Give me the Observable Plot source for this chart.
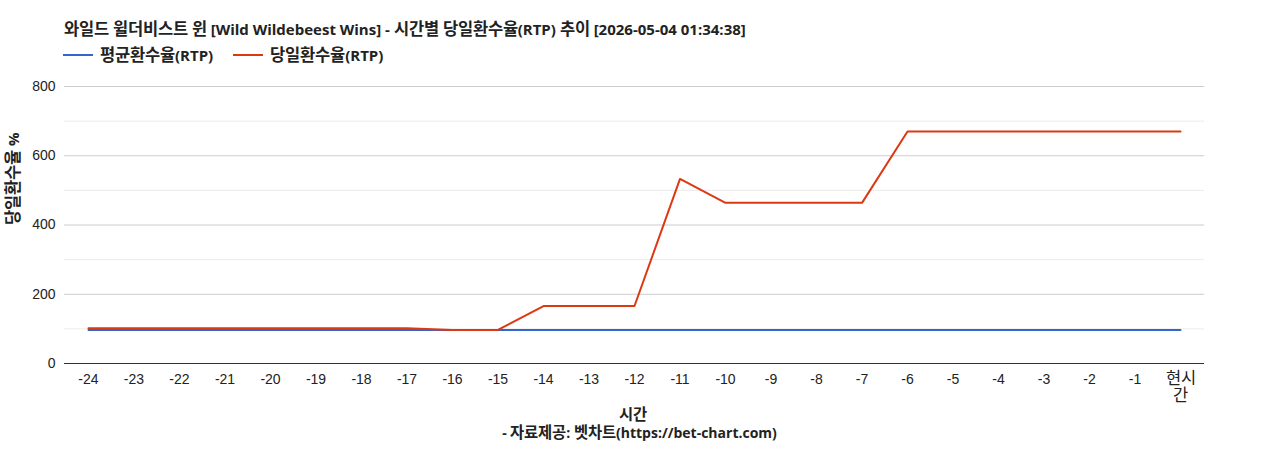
<!DOCTYPE html>
<html>
<head>
<meta charset="utf-8">
<script src="https://cdn.jsdelivr.net/npm/d3@7"></script>
<script src="https://cdn.jsdelivr.net/npm/@observablehq/plot@0.6"></script>
<style>
  @font-face { font-family: "HG"; src: local("Noto Sans CJK KR Bold"), local("NotoSansCJKkr-Bold"); font-weight: bold; unicode-range: U+1100-11FF, U+3130-318F, U+AC00-D7AF; size-adjust: 110%; }
  @font-face { font-family: "HG"; src: local("Noto Sans CJK KR"), local("NotoSansCJKkr-Regular"); font-weight: normal; unicode-range: U+1100-11FF, U+3130-318F, U+AC00-D7AF; size-adjust: 110%; }
  @font-face { font-family: "HGT"; src: local("Noto Sans CJK KR"), local("NotoSansCJKkr-Regular"); font-weight: normal; unicode-range: U+1100-11FF, U+3130-318F, U+AC00-D7AF; size-adjust: 118%; }
  body { margin: 0; background: #fff; font-family: "HG", "Open Sans", "Noto Sans CJK KR", sans-serif; }
  #wrap { position: relative; width: 1268px; height: 450px; }
  .title { position: absolute; left: 64px; top: 19px; line-height: 20px; font-size: 15px; font-weight: bold; color: #222; white-space: nowrap; }
  .legend { position: absolute; left: 63px; top: 45px; line-height: 20px; font-size: 15px; font-weight: bold; color: #222; display: flex; gap: 20px; white-space: nowrap; }
  .legend span.item { display: flex; align-items: center; }
  .legend span.sw { display: inline-block; width: 30px; height: 2px; margin-right: 7px; }
  #chart { position: absolute; left: 0; top: 70px; }
</style>
</head>
<body>
<div id="wrap">
  <div class="title">와일드 윌더비스트 윈 [Wild Wildebeest Wins] - 시간별 당일환수율(RTP) 추이 [2026-05-04 01:34:38]</div>
  <div class="legend">
    <span class="item"><span class="sw" style="background:#3366cc"></span>평균환수율(RTP)</span>
    <span class="item"><span class="sw" style="background:#dc3912"></span>당일환수율(RTP)</span>
  </div>
  <div id="chart"></div>
</div>
<script>
const hours = ["-24","-23","-22","-21","-20","-19","-18","-17","-16","-15","-14","-13","-12","-11","-10","-9","-8","-7","-6","-5","-4","-3","-2","-1","현시간"];
const avgRTP = [97,97,97,97,97,97,97,97,97,97,97,97,97,97,97,97,97,97,97,97,97,97,97,97,97];
const todayRTP = [102,102,102,102,102,102,102,102,97,97,166,166,166,533,464,464,464,464,670,670,670,670,670,670,670];
const majorTicks = [0,200,400,600,800];
const minorTicks = [100,300,500,700];

const avgData = hours.map((h,i) => ({h, v: avgRTP[i]}));
const todayData = hours.map((h,i) => ({h, v: todayRTP[i]}));

const tickFont = `"HGT", "Liberation Sans", Arial, "Noto Sans CJK KR", sans-serif`;
const labelFont = `"HG", "Open Sans", "Noto Sans CJK KR", sans-serif`;

const chart = Plot.plot({
  width: 1268,
  height: 380,
  marginLeft: 64,
  marginRight: 64,
  marginTop: 16,
  marginBottom: 87,
  style: { fontFamily: tickFont, fontSize: "14px", color: "#222", background: "transparent" },
  x: { type: "point", domain: hours, padding: 0.527, round: false },
  y: { domain: [0, 800] },
  marks: [
    Plot.ruleY(minorTicks, { stroke: "#ebebeb" }),
    Plot.ruleY(majorTicks.filter(d => d > 0), { stroke: "#cccccc" }),
    Plot.axisY({ ticks: majorTicks, tickSize: 0, tickPadding: 9, fontSize: 14, label: null, fill: "#222" }),
    Plot.axisX({ tickSize: 0, tickPadding: 8, fontSize: 14, label: null, fill: "#222", lineHeight: 1.25,
      tickFormat: d => d === "현시간" ? "현시\n간" : d }),
    Plot.line(avgData, { x: "h", y: "v", stroke: "#3366cc", strokeWidth: 2 }),
    Plot.line(todayData, { x: "h", y: "v", stroke: "#dc3912", strokeWidth: 2 }),
    Plot.ruleY([0], { stroke: "#333" }),
    Plot.text(["당일환수율 %"], { text: d => d, frameAnchor: "left", dx: -50, rotate: -90, fontSize: 15, fontWeight: "bold", fill: "#222", fontFamily: labelFont }),
    Plot.text(["시간"], { text: d => d, frameAnchor: "bottom", dx: -2, dy: 56, fontSize: 14, fontWeight: "bold", fill: "#222", fontFamily: labelFont }),
    Plot.text(["- 자료제공: 벳차트(https://bet-chart.com)"], { text: d => d, frameAnchor: "bottom", dx: 5, dy: 74, fontSize: 14, fontWeight: "bold", fill: "#222", fontFamily: labelFont })
  ]
});
document.getElementById("chart").appendChild(chart);
</script>
</body>
</html>
